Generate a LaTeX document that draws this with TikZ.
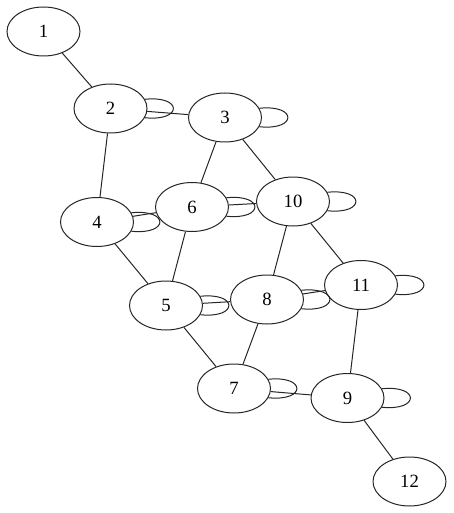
\documentclass[tikz,border=0pt]{standalone}
\usepackage{fontspec}
\setmainfont{Liberation Serif}
\usetikzlibrary{shapes.geometric}
\begin{document}
\begin{tikzpicture}[x=1pt,y=-1pt,
  vtx/.style={draw=black!85,line width=1pt,ellipse,minimum width=73pt,minimum height=49pt,inner sep=0pt,font=\fontsize{18.7}{20}\selectfont},
  lnk/.style={draw=black!85,line width=1pt},
  selfloop/.style={draw=black!85,line width=1pt}]
\useasboundingbox (0,0) rectangle (453,513);
\node[vtx] (n1) at (43.5,31.5) {1};
\node[vtx] (n2) at (110.5,108.5) {2};
\node[vtx] (n3) at (225,117.5) {3};
\node[vtx] (n4) at (97,222) {4};
\node[vtx] (n5) at (166,305.5) {5};
\node[vtx] (n6) at (192,207) {6};
\node[vtx] (n7) at (234,388.5) {7};
\node[vtx] (n8) at (267,299.5) {8};
\node[vtx] (n9) at (347.5,398) {9};
\node[vtx] (n10) at (293,201.5) {10};
\node[vtx] (n11) at (361,285) {11};
\node[vtx] (n12) at (409.5,481.5) {12};
\foreach \a/\b in {n1/n2,n2/n3,n2/n4,n3/n6,n3/n10,n4/n5,n4/n6,n6/n10,n6/n5,n10/n8,n10/n11,n5/n8,n5/n7,n8/n7,n8/n11,n11/n9,n7/n9,n9/n12}
  \draw[lnk] (\a) -- (\b);
\foreach \n in {n2,n3,n4,n5,n6,n7,n8,n9,n10,n11}
  \draw[selfloop] (\n.15) .. controls +(38,-4) and +(38,4) .. (\n.-15);
\end{tikzpicture}
\end{document}
